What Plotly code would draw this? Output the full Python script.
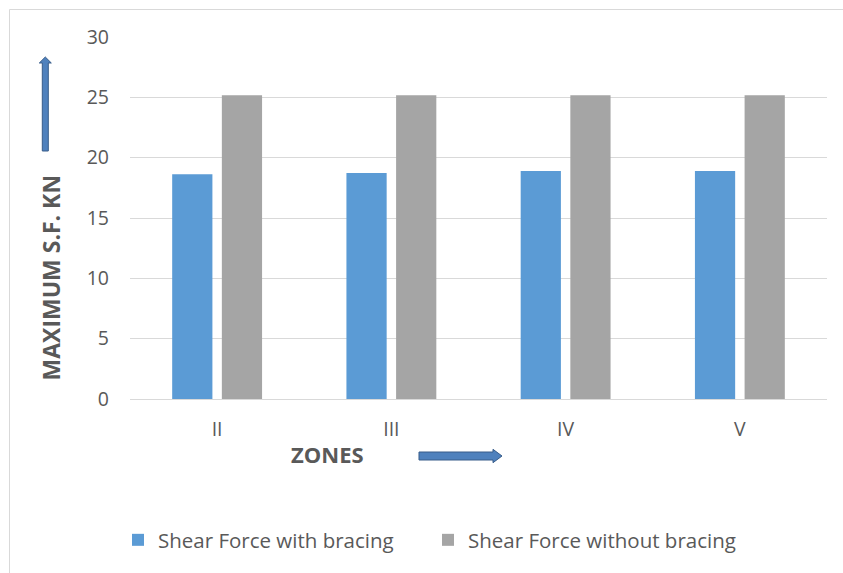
import plotly.graph_objects as go

# Data
zones = ["II", "III", "IV", "V"]
sf_with_bracing = [18.62, 18.72, 18.89, 18.89]
sf_without_bracing = [25.17, 25.17, 25.17, 25.17]
y_ticks = [0, 5, 10, 15, 20, 25, 30]

# Figure geometry (pixels) and helpers to place decorations in paper space
W_PX, H_PX = 843, 573
L, R, T, B = 130, 827, 37, 399


def px(x):
    return (x - L) / (R - L)


def py(y):
    return (B - y) / (B - T)


TEXT = "#595959"
FONT = "Open Sans"

fig = go.Figure()
fig.add_bar(x=zones, y=sf_with_bracing, name="Shear Force with bracing",
            marker=dict(color="#5b9bd5", line=dict(width=0)))
fig.add_bar(x=zones, y=sf_without_bracing, name="Shear Force without bracing",
            marker=dict(color="#a5a5a5", line=dict(width=0)))

fig.update_layout(
    width=W_PX, height=H_PX,
    margin=dict(l=L, r=W_PX - R, t=T, b=H_PX - B),
    paper_bgcolor="white", plot_bgcolor="white",
    barmode="group", bargap=0.43, bargroupgap=0.19,
    font=dict(family=FONT, color=TEXT),
    showlegend=True,
    legend=dict(orientation="h", x=px(118), y=py(540), yanchor="middle",
                xanchor="left", font=dict(size=20.5, color=TEXT, family=FONT),
                entrywidth=265, itemclick=False, bgcolor="rgba(0,0,0,0)"),
)

fig.update_xaxes(showgrid=False, showline=True, linecolor="#d9d9d9", linewidth=1,
                 ticks="", tickfont=dict(size=19.5, color=TEXT),
                 ticklabelstandoff=13, zeroline=False)
fig.update_yaxes(range=[0, 30], tickvals=y_ticks, showgrid=True, gridcolor="#d9d9d9",
                 gridwidth=1, showline=False, zeroline=False, ticks="",
                 tickfont=dict(size=19.5, color=TEXT), ticklabelstandoff=20)

# Axis titles
fig.add_annotation(text="<b>MAXIMUM S.F. KN</b>", xref="paper", yref="paper",
                   x=px(50), y=py(277.5), textangle=-90, showarrow=False,
                   font=dict(size=23, color=TEXT, family=FONT),
                   xanchor="center", yanchor="middle")
fig.add_annotation(text="<b>ZONES</b>", xref="paper", yref="paper",
                   x=px(327), y=py(454), showarrow=False,
                   font=dict(size=22, color=TEXT, family=FONT),
                   xanchor="center", yanchor="middle")


def poly(points):
    return "M " + " L ".join(f"{px(x):.5f},{py(y):.5f}" for x, y in points) + " Z"


arrow_style = dict(type="path", xref="paper", yref="paper",
                   fillcolor="#4f81bd", line=dict(color="#385d8a", width=1))

# Upward arrow beside the y title
fig.add_shape(path=poly([(42.3, 151), (42.3, 63), (39.3, 63), (45.3, 57),
                         (51.3, 63), (48.3, 63), (48.3, 151)]), **arrow_style)
# Rightward arrow beside the x title
fig.add_shape(path=poly([(419, 452), (493, 452), (493, 449.3), (502, 456),
                         (493, 462.7), (493, 460), (419, 460)]), **arrow_style)

# Chart frame
fig.add_shape(type="rect", xref="paper", yref="paper",
              x0=px(9.5), y0=py(9.5), x1=px(860), y1=py(600),
              line=dict(color="#d9d9d9", width=1), fillcolor="rgba(0,0,0,0)",
              layer="below")

fig.write_html("out.html")
